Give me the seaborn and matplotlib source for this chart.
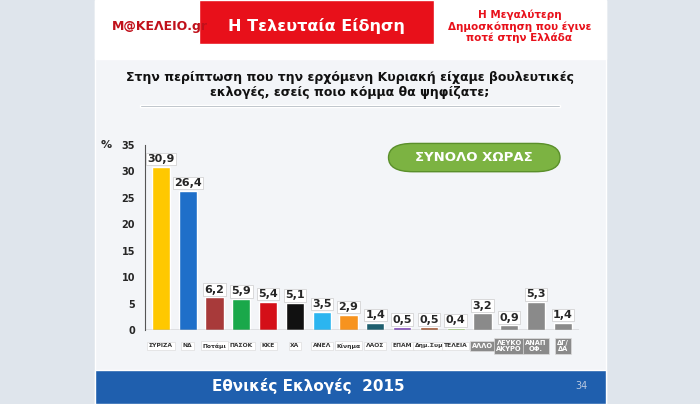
import matplotlib
matplotlib.use("Agg")
import matplotlib.pyplot as plt
import seaborn as sns
import pandas as pd
from matplotlib.patches import Rectangle, FancyBboxPatch

parties = ["ΣΥΡΙΖΑ", "ΝΔ", "Ποτάμι", "ΠΑΣΟΚ", "ΚΚΕ", "ΧΑ", "ΑΝΕΛ", "Κίνημα",
           "ΛΑΟΣ", "ΕΠΑΜ", "Δημ.Συμ", "ΤΕΛΕΙΑ", "ΑΛΛΟ", "ΛΕΥΚΟ\nΑΚΥΡΟ", "ΑΝΑΠ\nΟΦ.", "ΔΓ/\nΔΑ"]
values = [30.9, 26.4, 6.2, 5.9, 5.4, 5.1, 3.5, 2.9, 1.4, 0.5, 0.5, 0.4, 3.2, 0.9, 5.3, 1.4]
colors = ["#ffc800", "#1f6fc9", "#a83a3a", "#1aa84a", "#d40f18", "#111111", "#2bb5f0",
          "#f7931e", "#1f5f6f", "#7a3fb5", "#a0522d", "#8ccf5a",
          "#8a8a8a", "#8a8a8a", "#8a8a8a", "#8a8a8a"]
yticks = [0, 5, 10, 15, 20, 25, 30, 35]

df = pd.DataFrame({"party": parties, "value": values})

sns.set_style("white")
fig = plt.figure(figsize=(7, 4.04), dpi=100)
fig.patch.set_facecolor("#dfe5ec")

# slide background
fig.patches.append(Rectangle((0.135, 0), 0.73, 1, transform=fig.transFigure,
                             facecolor="#f3f5f8", zorder=-5))
# header
fig.patches.append(Rectangle((0.135, 0.855), 0.73, 0.145, transform=fig.transFigure,
                             facecolor="white", zorder=-4))
fig.patches.append(Rectangle((0.285, 0.89), 0.335, 0.11, transform=fig.transFigure,
                             facecolor="#e8101a", zorder=-3))
fig.text(0.16, 0.935, "Μ@ΚΕΛΕΙΟ.gr", fontsize=9, fontweight="bold", color="#c0101a",
         va="center")
fig.text(0.452, 0.935, "Η Τελευταία Είδηση", fontsize=11.5, fontweight="bold",
         color="white", ha="center", va="center")
fig.text(0.742, 0.935, "Η Μεγαλύτερη\nΔημοσκόπηση που έγινε\nποτέ στην Ελλάδα",
         fontsize=7.5, fontweight="bold", color="#e8101a", ha="center", va="center",
         linespacing=1.1)
fig.text(0.5, 0.79, "Στην περίπτωση που την ερχόμενη Κυριακή είχαμε βουλευτικές\n"
         "εκλογές, εσείς ποιο κόμμα θα ψηφίζατε;", fontsize=9, fontweight="bold",
         ha="center", va="center", color="#111111")
fig.patches.append(Rectangle((0.2, 0.735), 0.6, 0.004, transform=fig.transFigure,
                             facecolor="#9aa3ad", zorder=-3))
# footer
fig.patches.append(Rectangle((0.135, 0), 0.73, 0.085, transform=fig.transFigure,
                             facecolor="#1f5fae", zorder=-3))
fig.text(0.44, 0.045, "Εθνικές Εκλογές  2015", fontsize=11, fontweight="bold",
         color="white", ha="center", va="center")
fig.text(0.83, 0.045, "34", fontsize=7, color="#b8c8e0", ha="center", va="center")

ax = fig.add_axes([0.207, 0.183, 0.62, 0.458])
ax.set_facecolor("none")
sns.barplot(data=df, x="party", y="value", hue="party", palette=colors, legend=False,
            width=0.68, ax=ax, saturation=1)
ax.set_ylim(0, 35)
ax.set_xlim(-0.6, len(parties) - 0.4)
ax.set_yticks(yticks)
ax.set_yticklabels([str(t) for t in yticks], fontsize=7, fontweight="bold")
ax.tick_params(axis="y", length=3, pad=4)
ax.set_xlabel("")
ax.set_ylabel("")
ax.set_xticks([])
for s in ["top", "right", "bottom"]:
    ax.spines[s].set_visible(False)
ax.spines["left"].set_color("#555555")
ax.axhline(0, color="#888888", lw=1)
ax.text(-0.09, 1.0, "%", transform=ax.transAxes, fontsize=8, fontweight="bold",
        ha="center", va="center")

for i, v in enumerate(values):
    ax.text(i, v + 0.5, f"{v:.1f}".replace(".", ","), ha="center", va="bottom",
            fontsize=8, fontweight="bold",
            bbox=dict(boxstyle="square,pad=0.12", fc="white", ec="#cccccc", lw=0.5))
    ax.text(i, -3.0, parties[i], ha="center", va="center", fontsize=4.3 if i < 12 else 4.8,
            fontweight="bold", color="#333333" if i < 12 else "white",
            linespacing=1.0,
            bbox=dict(boxstyle="square,pad=0.3", fc="white" if i < 12 else "#8a8a8a",
                      ec="#dddddd", lw=0.5), clip_on=False)

# green button
btn = FancyBboxPatch((0.555, 0.575), 0.245, 0.07, boxstyle="round,pad=0,rounding_size=0.035",
                     transform=fig.transFigure, facecolor="#7cb342", edgecolor="#5a8f2a",
                     lw=1, zorder=2)
fig.patches.append(btn)
fig.text(0.677, 0.61, "ΣΥΝΟΛΟ ΧΩΡΑΣ", fontsize=9.5, fontweight="bold", color="white",
         ha="center", va="center", zorder=3)

fig.savefig("out.png", dpi=100, facecolor=fig.get_facecolor())
